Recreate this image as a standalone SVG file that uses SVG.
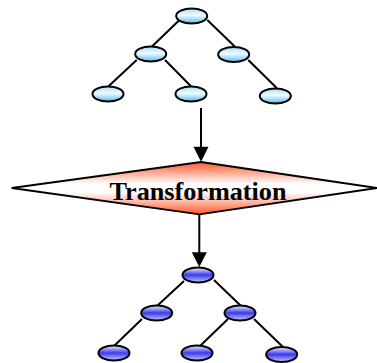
<svg xmlns="http://www.w3.org/2000/svg" width="377" height="363" viewBox="0 0 377 363">
<style>
.e{stroke:#000;stroke-width:2}
.a{fill:url(#ga)}
.b{fill:url(#gb)}
.l{stroke:#000;stroke-width:2;fill:none}
text{font-family:"Liberation Serif","Times New Roman",serif;font-weight:bold;font-size:26.2px;fill:#000;text-anchor:middle}
</style>
<defs>
<linearGradient id="ga" x1="0" y1="0" x2="0" y2="1"><stop offset="0" stop-color="#a8dcf8"/><stop offset="0.45" stop-color="#f2faff"/><stop offset="1" stop-color="#55bdf2"/></linearGradient>
<linearGradient id="gb" x1="0" y1="0" x2="0" y2="1"><stop offset="0" stop-color="#f4f4ff"/><stop offset="0.5" stop-color="#3a3aee"/><stop offset="1" stop-color="#c8c8fa"/></linearGradient>
<linearGradient id="gd" x1="0" y1="0" x2="0" y2="1"><stop offset="0" stop-color="#ff5a2a"/><stop offset="0.42" stop-color="#fff"/><stop offset="0.58" stop-color="#fff"/><stop offset="1" stop-color="#ff5a2a"/></linearGradient>
</defs>
<g id="connectors">
<path class="l" d="M178.7 20.7L151.7 46.7M207.3 20L235 46.7M136.7 60L108 86.7M165 60L191.7 87M248.3 60L276.7 88"/>
<path class="l" d="M184 281L157 306M214 280L241 306M142 319L114 346M228 319L200 346M254 319L283 347"/>
<path class="l" d="M201 108V148M199.3 214V254"/>
<polygon points="193.5,146.7 208.5,146.7 201,161.7"/>
<polygon points="191.8,252.3 206.8,252.3 199.3,267"/>
</g>
<g id="n1"><ellipse class="e a" cx="191.7" cy="16" rx="15.5" ry="7.5"/></g>
<g id="n2"><ellipse class="e a" cx="150.7" cy="54" rx="15.5" ry="7.5"/></g>
<g id="n3"><ellipse class="e a" cx="233.7" cy="54.5" rx="15.5" ry="7.5"/></g>
<g id="n4"><ellipse class="e a" cx="108" cy="94" rx="15.5" ry="7.5"/></g>
<g id="n5"><ellipse class="e a" cx="191" cy="94" rx="15.5" ry="7.5"/></g>
<g id="n6"><ellipse class="e a" cx="275.3" cy="96" rx="15.5" ry="7.5"/></g>
<g id="transformation">
<polygon points="201,162 377,188 199.5,214.3 11.7,188" fill="url(#gd)" stroke="#000" stroke-width="1.8"/>
<text x="198" y="199.5">Transformation</text>
</g>
<g id="m1"><ellipse class="e b" cx="198" cy="275" rx="15.5" ry="7.5"/></g>
<g id="m2"><ellipse class="e b" cx="156.7" cy="313" rx="15.5" ry="7.5"/></g>
<g id="m3"><ellipse class="e b" cx="240" cy="313" rx="15.5" ry="7.5"/></g>
<g id="m4"><ellipse class="e b" cx="114" cy="353" rx="15.5" ry="7.5"/></g>
<g id="m5"><ellipse class="e b" cx="197" cy="353" rx="15.5" ry="7.5"/></g>
<g id="m6"><ellipse class="e b" cx="281.7" cy="354.5" rx="15.5" ry="7.5"/></g>
</svg>
